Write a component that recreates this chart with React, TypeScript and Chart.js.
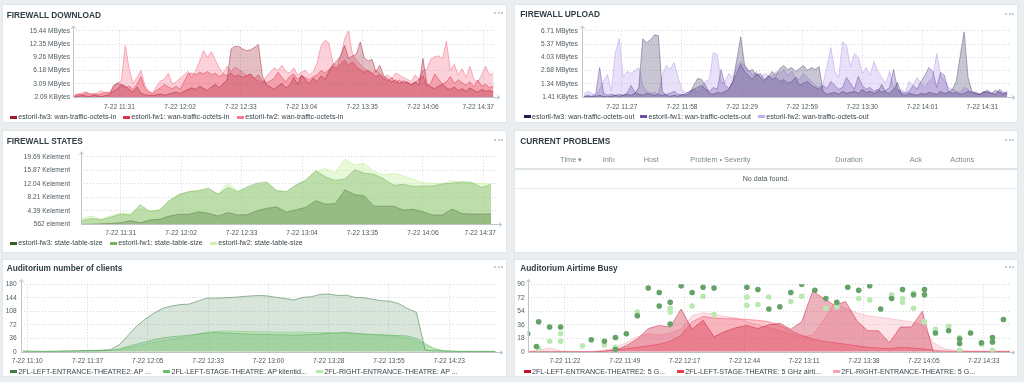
import React, { useEffect, useRef } from "react";
import { Chart, registerables } from "chart.js";

Chart.register(...registerables);

const FONT = "'Liberation Sans', Arial, Helvetica, sans-serif";
const PAGE_BG = "#ebeef0";
const TICK = "#4f5a60";
const GRID = "#d2d8db";
const AXIS = "#bcc5ca";
const TITLE = "#2f3d45";

// ================= FIREWALL DOWNLOAD (MBytes, minutes after 11:00) =================
const dlStart = 8;
const dlStep = 2;
const dlFw3 = [
  0.2, 0.3, 0.4, 0.3, 0.2, 0.5, 0.3, 0.2, 0.4, 0.6,
  2.8, 3.2, 3.0, 2.6, 1.8, 1.2, 2.4, 1.0, 0.6, 0.5,
  0.4, 0.6, 0.8, 0.5, 0.7, 1.0, 1.2, 0.9, 1.4, 1.8,
  2.2, 1.8, 2.6, 2.0, 1.6, 2.4, 3.0, 2.2, 3.2, 4.0,
  11.2, 11.8, 11.8, 11.2, 10.8, 11.0, 11.6, 12.2, 5.0, 3.0,
  2.4, 1.8, 2.6, 3.2, 2.2, 2.8, 4.6, 3.0, 5.2, 4.0,
  3.2, 4.4, 3.6, 5.0, 4.2, 6.0, 7.6, 8.4, 9.6, 12.0,
  9.0, 9.6, 10.0, 12.8, 9.2, 8.4, 8.8, 6.0, 7.4, 5.0,
  4.2, 3.6, 4.0, 3.2, 3.8, 3.4, 3.0, 3.6, 2.8, 9.0,
  3.2, 2.4, 2.0, 2.6, 3.0, 2.2, 1.8, 2.4, 1.6, 2.0,
  1.4, 2.2, 1.6, 1.2, 1.8, 1.4, 1.6, 1.2,
];
const dlFw1 = [
  0.5, 0.8, 0.6, 1.0, 0.7, 0.9, 0.6, 0.8, 1.2, 0.9,
  1.4, 2.0, 2.8, 2.2, 2.6, 1.8, 3.0, 4.8, 2.0, 1.2,
  0.9, 1.6, 2.2, 3.0, 2.4, 2.0, 2.6, 1.8, 3.6, 5.4,
  5.6, 5.2, 5.8, 5.4, 6.0, 5.2, 5.6, 4.8, 5.4, 5.0,
  5.6, 4.8, 5.2, 4.6, 5.0, 5.4, 4.4, 5.2, 3.8, 3.4,
  3.8, 4.4, 5.8, 4.6, 3.6, 4.8, 5.4, 4.2, 5.0, 4.6,
  4.0, 4.8, 5.2, 6.2, 5.6, 6.4, 7.2, 6.6, 7.8, 8.6,
  7.4, 8.2, 7.0, 6.4, 5.8, 6.2, 5.4, 4.8, 5.2, 4.4,
  3.8, 4.6, 3.4, 4.0, 3.2, 3.6, 2.8, 3.4, 4.2, 5.0,
  2.6, 3.2, 5.4, 4.2, 3.0, 3.6, 4.8, 3.2, 4.0, 3.4,
  2.8, 3.6, 2.4, 4.0, 2.6, 3.0, 2.2, 2.6,
];
const dlFw2 = [
  0.3, 0.6, 1.0, 1.3, 0.8, 0.5, 1.1, 1.5, 0.9, 1.3,
  2.2, 3.4, 3.8, 12.0, 6.5, 3.2, 4.6, 6.2, 2.8, 1.4,
  1.0, 2.6, 3.8, 4.2, 5.6, 3.0, 3.6, 4.4, 5.2, 6.0,
  4.6, 6.2, 8.4, 10.8, 9.2, 10.6, 8.6, 6.8, 5.6, 7.2,
  6.0, 7.0, 6.4, 5.8, 5.0, 5.4, 4.2, 3.8, 3.2, 4.8,
  5.8, 6.8, 6.2, 7.4, 6.0, 5.6, 6.8, 5.2, 5.8, 6.2,
  5.2, 6.0, 8.0, 12.0, 13.2, 12.6, 8.0, 7.0, 9.5, 13.5,
  15.4, 10.0, 8.6, 7.6, 6.6, 6.2, 5.6, 6.2, 5.6, 4.6,
  5.2, 4.2, 5.6, 5.2, 4.6, 4.2, 3.6, 5.2, 4.2, 6.2,
  6.5, 8.8, 9.4, 9.6, 9.0, 13.0, 6.2, 7.6, 5.2, 6.6,
  4.6, 7.2, 4.2, 3.6, 5.2, 7.2, 5.2, 5.6,
];
const dlXTicks = [31, 62, 93, 124, 155, 186, 217];
const dlXLabels = ["7-22 11:31", "7-22 12:02", "7-22 12:33", "7-22 13:04", "7-22 13:35", "7-22 14:06", "7-22 14:37"];
const dlYTicks = [0.00209, 3.088, 6.176, 9.264, 12.352, 15.44];
const dlYLabels = ["2.09 KBytes", "3.09 MBytes", "6.18 MBytes", "9.26 MBytes", "12.35 MBytes", "15.44 MBytes"];
const dlNames = ["estoril-fw3: wan-traffic-octets-in", "estoril-fw1: wan-traffic-octets-in", "estoril-fw2: wan-traffic-octets-in"];
const dlColors = ["#a3162b", "#e33148", "#f57b93"];

// ================= FIREWALL UPLOAD =================
const upStart = 8;
const upStep = 2;
const upFw3 = [
  0.05, 0.1, 0.05, 0.1, 0.2, 0.1, 0.05, 0.1, 0.2, 0.1,
  0.2, 0.3, 0.2, 0.4, 1.0, 5.9, 5.5, 5.8, 6.3, 6.2,
  0.6, 0.2, 0.1, 0.2, 0.1, 0.3, 0.2, 0.4, 1.2, 1.9,
  1.8, 1.2, 0.4, 0.3, 0.5, 0.4, 0.6, 0.8, 1.6, 3.8,
  6.1, 3.2, 2.6, 2.8, 2.2, 2.4, 1.8, 2.0, 2.6, 2.2,
  2.9, 3.2, 2.8, 3.0, 2.6, 2.9, 3.2, 2.7, 3.0, 2.8,
  3.1, 0.6, 0.3, 0.4, 0.5, 0.3, 0.6, 0.4, 0.5, 0.6,
  0.4, 0.8, 0.5, 0.6, 0.4, 0.6, 1.3, 0.5, 0.4, 0.8,
  1.5, 0.3, 0.2, 0.4, 0.3, 0.2, 0.4, 0.3, 0.5, 0.4,
  0.3, 0.6, 0.4, 0.5, 0.8, 1.6, 4.2, 6.6, 2.0, 0.6,
  0.4, 0.3, 0.5, 0.6, 0.4, 0.7, 0.5, 0.3, 0.6,
];
const upFw1 = [
  0.1, 0.2, 0.1, 0.3, 3.0, 0.4, 0.2, 0.3, 0.2, 0.3,
  0.2, 0.4, 1.2, 0.5, 0.3, 0.2, 0.4, 0.3, 0.2, 0.3,
  0.2, 0.3, 0.4, 0.6, 0.3, 0.2, 0.4, 0.6, 0.8, 1.0,
  1.2, 0.8, 0.6, 1.0, 0.8, 2.8, 1.2, 0.9, 1.6, 2.4,
  3.3, 2.6, 2.2, 1.8, 2.4, 2.0, 1.6, 2.2, 1.8, 2.0,
  1.6, 1.8, 1.4, 1.6, 2.0, 1.2, 1.4, 1.6, 1.2, 1.0,
  0.8, 1.2, 0.9, 1.6, 1.2, 0.8, 1.0, 2.0, 1.4, 0.8,
  2.1, 1.2, 0.8, 1.0, 0.6, 0.8, 0.5, 0.7, 1.0, 2.8,
  0.8, 0.5, 0.4, 0.6, 1.2, 0.8, 1.6, 2.2, 3.0, 2.6,
  1.0, 2.5, 2.2, 0.6, 0.4, 0.5, 0.3, 0.4, 0.6, 0.5,
  0.4, 0.3, 0.6, 0.5, 0.4, 0.3, 0.8, 0.5, 0.4,
];
const upFw2 = [
  0.3, 0.6, 0.4, 0.2, 0.8, 1.6, 2.3, 0.6, 4.5, 5.9,
  2.0, 2.6, 2.4, 2.7, 3.0, 1.2, 0.6, 0.4, 0.5, 0.3,
  2.2, 3.2, 2.8, 3.5, 2.0, 0.8, 0.4, 0.6, 0.8, 0.5,
  1.0, 1.6, 1.8, 4.5, 4.3, 1.4, 1.6, 2.4, 2.0, 3.0,
  3.6, 3.2, 2.8, 2.2, 2.6, 2.0, 2.4, 2.2, 2.0, 2.6,
  2.4, 2.8, 2.2, 2.6, 2.0, 1.8, 2.4, 2.0, 1.6, 1.2,
  1.0, 1.4, 3.0, 5.0, 2.6, 2.0, 5.6, 5.2, 3.0, 4.4,
  4.0, 2.4, 3.0, 2.2, 3.6, 2.6, 2.0, 1.4, 2.6, 1.0,
  0.6, 0.8, 0.5, 1.6, 1.2, 2.0, 1.4, 1.0, 1.6, 2.0,
  4.4, 2.2, 1.6, 1.0, 0.8, 0.6, 0.5, 1.0, 0.8, 0.4,
  0.6, 0.3, 0.5, 0.8, 0.4, 0.3, 0.6, 0.4, 0.3,
];
const upXTicks = [27.3, 58, 88.7, 119.3, 150, 180.7, 211.3];
const upXLabels = ["7-22 11:27", "7-22 11:58", "7-22 12:29", "7-22 12:59", "7-22 13:30", "7-22 14:01", "7-22 14:31"];
const upYTicks = [0.00141, 1.342, 2.684, 4.026, 5.368, 6.71];
const upYLabels = ["1.41 KBytes", "1.34 MBytes", "2.68 MBytes", "4.03 MBytes", "5.37 MBytes", "6.71 MBytes"];
const upNames = ["estoril-fw3: wan-traffic-octets-out", "estoril-fw1: wan-traffic-octets-out", "estoril-fw2: wan-traffic-octets-out"];
const upColors = ["#221c4e", "#6c4fa6", "#c5b0ee"];

// ================= FIREWALL STATES (Kelement) =================
const stStart = 11;
const stStep = 5;
const stFw3 = [
  0.56, 0.6, 0.7, 0.8, 1.0, 1.6, 1.0, 1.8, 2.0, 2.9,
  3.4, 3.4, 4.1, 3.7, 2.9, 3.9, 3.2, 3.3, 4.4, 5.1,
  5.5, 4.0, 4.7, 5.4, 7.2, 6.3, 6.4, 10.3, 9.0, 8.6,
  5.7, 5.7, 5.7, 4.6, 4.8, 4.1, 3.2, 3.2, 4.9, 3.6,
  3.5, 3.5, 3.5,
];
const stFw1 = [
  1.6, 2.2, 1.8, 2.6, 3.4, 3.2, 6.1, 4.2, 4.6, 7.2,
  9.0, 9.8, 10.1, 10.8, 9.1, 11.0, 9.8, 11.2, 12.2, 12.5,
  10.1, 9.8, 11.7, 13.0, 15.7, 14.0, 13.0, 13.4, 16.0, 15.0,
  14.7, 13.4, 11.6, 11.9, 11.3, 11.4, 11.4, 12.0, 12.2, 12.6,
  12.4, 11.0, 11.8,
];
const stFw2 = [
  2.26, 2.83, 2.07, 2.92, 3.77, 3.58, 5.0, 4.33, 4.61, 7.44,
  9.04, 9.7, 10.08, 10.27, 9.14, 12.34, 9.8, 10.65, 11.59, 11.96,
  10.08, 9.8, 11.68, 13.28, 15.55, 16.3, 15.17, 18.94, 17.34, 17.81,
  15.45, 14.51, 14.98, 14.23, 13.28, 12.34, 12.15, 12.06, 12.9, 12.15,
  12.15, 12.15, 11.96,
];
const stXTicks = [31, 62, 93, 124, 155, 186, 217];
const stXLabels = ["7-22 11:31", "7-22 12:02", "7-22 12:33", "7-22 13:04", "7-22 13:35", "7-22 14:06", "7-22 14:37"];
const stYTicks = [0.562, 4.387, 8.213, 12.038, 15.864, 19.69];
const stYLabels = ["562 element", "4.39 Kelement", "8.21 Kelement", "12.04 Kelement", "15.87 Kelement", "19.69 Kelement"];
const stNames = ["estoril-fw3: state-table-size", "estoril-fw1: state-table-size", "estoril-fw2: state-table-size"];
const stColors = ["#31601f", "#77b35d", "#cdf2ad"];

// ================= CURRENT PROBLEMS =================
const probColumns = ["Time \u25BE", "Info", "Host", "Problem \u2022 Severity", "Duration", "Ack", "Actions"];
const probEmpty = "No data found.";

// ================= Auditorium number of clients =================
const clStart = 8;
const clStep = 4;
const clA = [
  2, 1.5, 1, 1, 1.5, 2, 2.5, 3, 3.5, 4,
  5.5, 18, 43, 68, 87, 103, 116, 122, 126, 127,
  135, 143, 143, 144, 145, 147, 149, 150, 149, 145,
  142, 138, 145, 147, 153, 154, 150, 151, 145, 144,
  140, 136, 135, 128, 115, 105, 4, 2, 1.5, 1.5,
  1, 1, 1, 1, 1,
];
const clB = [
  0, 0, 0.5, 0.5, 0.5, 1, 1, 1.5, 2, 2.5,
  3.5, 7, 14, 20, 26, 32, 37, 40, 42, 44,
  47, 50, 51, 50, 49, 48, 47, 46, 46, 45,
  45, 44, 45, 46, 47, 49, 50, 52, 49, 47,
  46, 45, 44, 43, 42, 35, 22, 8, 2, 1,
  0.5, 0.5, 0.5, 0.5, 0.5,
];
const clC = [
  0, 0.5, 0.5, 0.5, 1, 1, 1.5, 1.5, 2, 2,
  3, 6, 10, 15, 20, 25, 29, 33, 37, 40,
  47, 52, 54, 55, 55, 54, 54, 53, 53, 52,
  52, 52, 52, 51, 51, 51, 50, 49, 48, 47,
  46, 45, 43, 40, 36, 28, 18, 9, 3, 1,
  0.5, 0.5, 0.5, 0.5, 0.5,
];
const clXTicks = [10, 37.6, 65.1, 92.7, 120.3, 147.9, 175.4, 203];
const clXLabels = ["7-22 11:10", "7-22 11:37", "7-22 12:05", "7-22 12:33", "7-22 13:00", "7-22 13:28", "7-22 13:55", "7-22 14:23"];
const clYTicks = [0, 36, 72, 108, 144, 180];
const clYLabels = ["0", "36", "72", "108", "144", "180"];
const clNames = ["2FL-LEFT-ENTRANCE-THEATRE2: AP ...", "2FL-LEFT-STAGE-THEATRE: AP klientid...", "2FL-RIGHT-ENTRANCE-THEATRE: AP ..."];
const clColors = ["#3e7e45", "#6cbf6f", "#aeeca4"];

// ================= Auditorium Airtime Busy =================
const atStart = 5;
const atStep = 5;
const atR1 = [
  0, 0, 0, 0, 0, 0, 0, 0.5, 2, 8,
  17, 31, 35, 33, 57, 30, 42, 20, 27, 32,
  35, 31, 36, 38, 30, 40, 81, 71, 62, 67,
  42, 28, 28, 12, 33, 33, 54, 0, 0, 0,
  0, 0, 0, 0, 0,
];
const atR2 = [
  0, 0, 0, 0, 0, 0, 0, 1, 2, 4,
  6, 8, 10, 14, 22, 40, 47, 45, 44, 44,
  43, 42, 40, 35, 28, 22, 17, 14, 12, 10,
  8, 6, 5, 4, 6, 5, 4, 2, 1, 0.5,
  0.5, 0.5, 0.5, 0.5, 0.5,
];
const atR3 = [
  0, 2, 5, 1, 0, 0, 0.5, 2, 5, 12,
  20, 24, 22, 25, 30, 48, 52, 50, 47, 45,
  40, 36, 32, 28, 24, 20, 22, 42, 65, 58,
  52, 48, 46, 44, 42, 40, 36, 12, 4, 2,
  1, 0.5, 0.5, 0.5, 0.5,
];
const atDarkX = [5, 10, 15, 20, 9, 34, 40, 45, 45, 50, 55, 60, 65, 65, 70, 70, 75, 80, 85, 90, 105, 110, 115, 120, 125, 130, 136, 141, 146, 151, 156, 161, 166, 171, 176, 181, 186, 186, 191, 197, 202, 202, 207, 212, 217, 217, 222];
const atDarkY = [24, 40, 33, 33, 7, 16, 14, 19, 3, 24, 48, 85, 79, 61, 66, 37, 88, 79, 86, 85, 86, 83, 57, 60, 79, 90, 82, 71, 66, 86, 82, 88, 57, 71, 83, 76, 83, 76, 25, 28, 11, 17, 25, 12, 13, 19, 43];
const atLightX = [10, 15, 20, 20, 30, 40, 45, 55, 70, 70, 80, 85, 90, 105, 105, 110, 115, 125, 130, 141, 146, 156, 161, 171, 176, 176, 181, 181, 186, 191, 197, 202, 202, 212, 217, 217];
const atLightY = [4, 14, 24, 14, 8, 9, 6, 53, 58, 53, 61, 74, 50, 73, 62, 63, 73, 67, 74, 58, 60, 71, 69, 76, 71, 66, 78, 58, 40, 30, 34, 19, 2, 10, 2, 13];
const atXTicks = [22, 49.3, 76.6, 103.9, 131.1, 158.4, 185.7, 213];
const atXLabels = ["7-22 11:22", "7-22 11:49", "7-22 12:17", "7-22 12:44", "7-22 13:11", "7-22 13:38", "7-22 14:05", "7-22 14:33"];
const atYTicks = [0, 18, 36, 54, 72, 90];
const atYLabels = ["0", "18", "36", "54", "72", "90"];
const atNames = ["2FL-LEFT-ENTRANCE-THEATRE2: 5 G...", "2FL-LEFT-STAGE-THEATRE: 5 GHz airti...", "2FL-RIGHT-ENTRANCE-THEATRE: 5 G..."];
const atColors = ["#c8102e", "#f0384f", "#f7a1b2"];
const atDotColors = ["#64a268", "#b9e8b1"];

// ================= helpers =================
function rgba(hex: string, a: number) {
  const n = parseInt(hex.slice(1), 16);
  return `rgba(${(n >> 16) & 255},${(n >> 8) & 255},${n & 255},${a})`;
}
function seriesPoints(values: number[], start: number, step: number) {
  return values.map((v, i) => ({ x: start + i * step, y: v }));
}
function pairPoints(xs: number[], ys: number[]) {
  return xs.map((x, i) => ({ x, y: ys[i] }));
}
function area(label: string, color: string, values: number[], start: number, step: number, fillA: number, lineA: number) {
  return {
    label,
    data: seriesPoints(values, start, step),
    borderColor: rgba(color, lineA),
    backgroundColor: rgba(color, fillA),
    borderWidth: 1,
    fill: "start",
    pointRadius: 0,
    tension: 0,
    order: 1,
  };
}

type Spec = {
  w: number; h: number;
  plotLeft: number; plotTop: number; plotRight: number; plotBottom: number;
  yLabelPad: number; xLabelY: number;
  xMin: number; xMax: number; xTicks: number[]; xLabels: string[];
  yTicks: number[]; yLabels: string[];
  datasets: any[];
};

function ChartBox({ spec }: { spec: Spec }) {
  const ref = useRef<HTMLCanvasElement | null>(null);
  useEffect(() => {
    const canvas = ref.current;
    if (!canvas) return;
    const axesPlugin = {
      id: "zbxAxes",
      afterDraw(chart: any) {
        const { ctx, chartArea: a } = chart;
        ctx.save();
        const L = Math.round(a.left) + 0.5;
        const B = Math.round(a.bottom) + 0.5;
        ctx.strokeStyle = AXIS;
        ctx.lineWidth = 1;
        ctx.beginPath();
        ctx.moveTo(L, B);
        ctx.lineTo(L, a.top - 4);
        ctx.moveTo(L, B);
        ctx.lineTo(a.right + 4, B);
        ctx.stroke();
        ctx.beginPath();
        ctx.moveTo(L - 2, a.top - 2);
        ctx.lineTo(L, a.top - 5);
        ctx.lineTo(L + 2, a.top - 2);
        ctx.moveTo(a.right + 2, B - 2);
        ctx.lineTo(a.right + 5, B);
        ctx.lineTo(a.right + 2, B + 2);
        ctx.stroke();
        const xs = chart.scales.x;
        ctx.font = `6.6px ${FONT}`;
        ctx.fillStyle = TICK;
        ctx.textAlign = "center";
        ctx.textBaseline = "middle";
        spec.xTicks.forEach((v, i) => {
          const text = spec.xLabels[i];
          const tw = ctx.measureText(text).width;
          let px = xs.getPixelForValue(v);
          px = Math.min(px, a.right - tw / 2 - 1);
          ctx.fillText(text, px, spec.xLabelY);
        });
        ctx.restore();
      },
    };
    const chart = new Chart(canvas, {
      type: "line",
      data: { datasets: spec.datasets },
      options: {
        animation: false,
        responsive: false,
        maintainAspectRatio: false,
        devicePixelRatio: 1,
        events: [],
        layout: { padding: { left: 0, top: spec.plotTop, right: spec.w - spec.plotRight, bottom: 0 } },
        plugins: { legend: { display: false }, tooltip: { enabled: false }, title: { display: false } },
        scales: {
          x: {
            type: "linear",
            min: spec.xMin,
            max: spec.xMax,
            afterBuildTicks: (s: any) => { s.ticks = spec.xTicks.map((v) => ({ value: v })); },
            afterFit: (s: any) => { s.height = spec.h - spec.plotBottom; },
            ticks: { display: false },
            grid: { color: GRID, lineWidth: 1, drawTicks: false },
            border: { display: false, dash: [1, 2] },
          },
          y: {
            type: "linear",
            min: spec.yTicks[0],
            max: spec.yTicks[spec.yTicks.length - 1],
            afterBuildTicks: (s: any) => { s.ticks = spec.yTicks.map((v) => ({ value: v })); },
            afterFit: (s: any) => { s.width = spec.plotLeft; },
            ticks: {
              autoSkip: false,
              padding: spec.yLabelPad,
              color: TICK,
              font: { family: FONT, size: 6.6 },
              callback: (_v: any, i: number) => spec.yLabels[i],
            },
            grid: { color: GRID, lineWidth: 1, drawTicks: false },
            border: { display: false, dash: [1, 2] },
          },
        },
      } as any,
      plugins: [axesPlugin],
    });
    return () => chart.destroy();
  }, []);
  return (
    <canvas
      ref={ref}
      width={spec.w}
      height={spec.h}
      style={{ position: "absolute", left: 0, top: 0, width: spec.w, height: spec.h }}
    />
  );
}

function MenuDots({ x, y }: { x: number; y: number }) {
  return (
    <div style={{ position: "absolute", left: x, top: y - 1 }}>
      {[0, 1, 2].map((i) => (
        <div key={i} style={{ position: "absolute", left: i * 3.6, top: 0, width: 2, height: 2, borderRadius: 1, background: "#b4bdc2" }} />
      ))}
    </div>
  );
}

function Legend({ names, colors, lefts, y }: { names: string[]; colors: string[]; lefts: number[]; y: number }) {
  return (
    <>
      {names.map((n, i) => (
        <div
          key={i}
          style={{
            position: "absolute", left: lefts[i], top: y - 5, height: 10, display: "flex", alignItems: "center",
            whiteSpace: "nowrap", fontFamily: FONT, fontSize: 7.1, color: "#3a454b",
          }}
        >
          <span style={{ display: "inline-block", width: 7, height: 3, background: colors[i], marginRight: 1.3 }} />
          {n}
        </div>
      ))}
    </>
  );
}

function Panel(props: { x: number; y: number; w: number; h: number; title: string; titleX: number; titleY: number; menuY: number; children?: any }) {
  const { x, y, w, h, title, titleX, titleY, menuY, children } = props;
  return (
    <div style={{ position: "absolute", left: x, top: y, width: w, height: h, background: "#fff", boxShadow: "inset 0 0 0 1px #e1e6e9" }}>
      {children}
      <div style={{ position: "absolute", left: titleX, top: titleY - 6, lineHeight: "12px", fontFamily: FONT, fontSize: 8.3, fontWeight: "bold", color: TITLE, whiteSpace: "nowrap" }}>
        {title}
      </div>
      <MenuDots x={w - 13} y={menuY} />
    </div>
  );
}

export default function App() {
  const dlSpec: Spec = {
    w: 505, h: 119, plotLeft: 71, plotTop: 26.7, plotRight: 493, plotBottom: 93.3, yLabelPad: 3, xLabelY: 102.7,
    xMin: 7.3, xMax: 222.8, xTicks: dlXTicks, xLabels: dlXLabels, yTicks: dlYTicks, yLabels: dlYLabels,
    datasets: [
      area(dlNames[0], dlColors[0], dlFw3, dlStart, dlStep, 0.28, 0.45),
      area(dlNames[1], dlColors[1], dlFw1, dlStart, dlStep, 0.3, 0.5),
      area(dlNames[2], dlColors[2], dlFw2, dlStart, dlStep, 0.35, 0.6),
    ],
  };
  const upSpec: Spec = {
    w: 504, h: 119, plotLeft: 68, plotTop: 26.7, plotRight: 496, plotBottom: 93.3, yLabelPad: 4.3, xLabelY: 102.7,
    xMin: 7.0, xMax: 225.4, xTicks: upXTicks, xLabels: upXLabels, yTicks: upYTicks, yLabels: upYLabels,
    datasets: [
      area(upNames[0], upColors[0], upFw3, upStart, upStep, 0.25, 0.35),
      area(upNames[1], upColors[1], upFw1, upStart, upStep, 0.3, 0.5),
      area(upNames[2], upColors[2], upFw2, upStart, upStep, 0.38, 0.7),
    ],
  };
  const stSpec: Spec = {
    w: 505, h: 123, plotLeft: 78.7, plotTop: 26.7, plotRight: 495, plotBottom: 94.3, yLabelPad: 10.7, xLabelY: 103.3,
    xMin: 10.5, xMax: 224, xTicks: stXTicks, xLabels: stXLabels, yTicks: stYTicks, yLabels: stYLabels,
    datasets: [
      area(stNames[0], stColors[0], stFw3, stStart, stStep, 0.28, 0.35),
      area(stNames[1], stColors[1], stFw1, stStart, stStep, 0.38, 0.5),
      area(stNames[2], stColors[2], stFw2, stStart, stStep, 0.45, 0.8),
    ],
  };
  const clSpec: Spec = {
    w: 505, h: 118, plotLeft: 18.7, plotTop: 25.3, plotRight: 496, plotBottom: 92.7, yLabelPad: 4, xLabelY: 102,
    xMin: 7.0, xMax: 225.3, xTicks: clXTicks, xLabels: clXLabels, yTicks: clYTicks, yLabels: clYLabels,
    datasets: [
      area(clNames[0], clColors[0], clA, clStart, clStep, 0.2, 0.55),
      area(clNames[1], clColors[1], clB, clStart, clStep, 0.3, 0.6),
      area(clNames[2], clColors[2], clC, clStart, clStep, 0.42, 0.8),
    ],
  };
  const dot = (label: string, color: string, xs: number[], ys: number[]) => ({
    label, data: pairPoints(xs, ys), showLine: false, fill: false, pointRadius: 2.8,
    pointBackgroundColor: color, pointBorderWidth: 0, borderColor: color, backgroundColor: color, order: 0,
  });
  const atSpec: Spec = {
    w: 504, h: 118, plotLeft: 13.7, plotTop: 25.3, plotRight: 496, plotBottom: 92.7, yLabelPad: 3, xLabelY: 102,
    xMin: 5.0, xMax: 225.0, xTicks: atXTicks, xLabels: atXLabels, yTicks: atYTicks, yLabels: atYLabels,
    datasets: [
      dot("dark", atDotColors[0], atDarkX, atDarkY),
      dot("light", atDotColors[1], atLightX, atLightY),
      area(atNames[0], atColors[0], atR1, atStart, atStep, 0.32, 0.45),
      area(atNames[1], atColors[1], atR2, atStart, atStep, 0.28, 0.45),
      area(atNames[2], atColors[2], atR3, atStart, atStep, 0.3, 0.5),
    ],
  };

  const probLefts = [46.3, 88.7, 129.7, 176.3, 321.3, 395.7, 436.3];

  return (
    <div style={{ position: "fixed", left: 0, top: 0, width: 1024, height: 382, background: PAGE_BG, overflow: "hidden", fontFamily: FONT }}>
      <Panel x={2} y={4} w={505} h={119} title="FIREWALL DOWNLOAD" titleX={4.7} titleY={10.7} menuY={9}>
        <ChartBox spec={dlSpec} />
        <Legend names={dlNames} colors={dlColors} lefts={[8, 121, 235]} y={113} />
      </Panel>
      <Panel x={514} y={4} w={504} h={119} title="FIREWALL UPLOAD" titleX={6.3} titleY={10} menuY={10}>
        <ChartBox spec={upSpec} />
        <Legend names={upNames} colors={upColors} lefts={[9.7, 126.3, 244]} y={112.7} />
      </Panel>
      <Panel x={2} y={130} w={505} h={123} title="FIREWALL STATES" titleX={4.7} titleY={11} menuY={10}>
        <ChartBox spec={stSpec} />
        <Legend names={stNames} colors={stColors} lefts={[8, 108, 208]} y={113.3} />
      </Panel>
      <Panel x={514} y={130} w={504} h={123} title="CURRENT PROBLEMS" titleX={6.3} titleY={11} menuY={10}>
        {probColumns.map((c, i) => (
          <div key={i} style={{ position: "absolute", left: probLefts[i], top: 25, lineHeight: "10px", fontSize: 7.3, color: "#7a8a93", whiteSpace: "nowrap" }}>
            {c}
          </div>
        ))}
        <div style={{ position: "absolute", left: 1, right: 1, top: 38, height: 2, background: "#dfe4e7" }} />
        <div style={{ position: "absolute", left: 0, width: 504, top: 44.3, lineHeight: "10px", fontSize: 7.1, color: "#4b565c", textAlign: "center" }}>
          {probEmpty}
        </div>
        <div style={{ position: "absolute", left: 1, right: 1, top: 58, height: 1, background: "#e6eaec" }} />
      </Panel>
      <Panel x={2} y={259} w={505} h={118} title="Auditorium number of clients" titleX={4.7} titleY={9.3} menuY={7.7}>
        <ChartBox spec={clSpec} />
        <Legend names={clNames} colors={clColors} lefts={[8, 161.3, 314]} y={112.7} />
      </Panel>
      <Panel x={514} y={259} w={504} h={118} title="Auditorium Airtime Busy" titleX={6.3} titleY={9.3} menuY={7.7}>
        <ChartBox spec={atSpec} />
        <Legend names={atNames} colors={atColors} lefts={[9.7, 163, 319]} y={112.7} />
      </Panel>
    </div>
  );
}
